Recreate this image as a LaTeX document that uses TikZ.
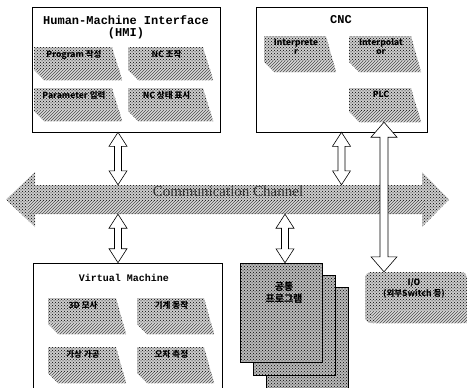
\documentclass[tikz,border=0pt]{standalone}
\usepackage{fontspec}
\setmainfont{Liberation Serif}
\newfontfamily\kr{Noto Sans CJK KR}
\newfontfamily\mono{Liberation Mono}
\usetikzlibrary{patterns,calc}
\tikzset{
  dotfill/.style={preaction={fill=gray!40}, pattern=crosshatch dots, pattern color=black},
  darkdot/.style={preaction={fill=gray!55}, pattern=crosshatch dots, pattern color=black},
  hatchfill/.style={preaction={fill=gray!30}, pattern=north east lines, pattern color=black!70},
  frame/.style={draw=black, line width=0.6pt, fill=white, inner sep=0pt},
  ttl/.style={font=\mono\bfseries\fontsize{12}{13}\selectfont, inner sep=0pt},
  subtxt/.style={font=\kr\bfseries\fontsize{8.5}{9}\selectfont, align=center, inner sep=0pt, text=black},
  hollow/.style={draw=black, line width=0.6pt, fill=white, line join=miter},
  slabbox/.style={inner sep=0pt, draw=none}
}
\newcommand\slab[6]{%
  \node[slabbox, minimum width={#4-#2}, minimum height={#5-#3}] (#1) at ({(#2+#4)/2},{(#3+#5)/2}) {};
  \fill[dotfill] (#2,#3) -- (#4-10,#3) -- (#4,#5) -- (#2+10,#5) -- (#2,#5-10) -- cycle;
  \fill[hatchfill] (#2+1,#5-11) -- (#4-3,#5-11) -- (#4,#5) -- (#2+10,#5) -- cycle;
  \node[subtxt, anchor=north] (#1t) at ({(#2+#4)/2-4},{#3+3}) {#6};
}
\newcommand\harrow[5]{%
  \draw[hollow] let \p1=#1, \p2=#2 in
    (\x1,\y1) -- ({\x1+#3pt},{\y1-#5pt}) -- ({\x1+#4pt},{\y1-#5pt})
    -- ({\x1+#4pt},{\y2+#5pt}) -- ({\x1+#3pt},{\y2+#5pt}) -- (\x1,\y2)
    -- ({\x1-#3pt},{\y2+#5pt}) -- ({\x1-#4pt},{\y2+#5pt})
    -- ({\x1-#4pt},{\y1-#5pt}) -- ({\x1-#3pt},{\y1-#5pt}) -- cycle;
}
\begin{document}
\begin{tikzpicture}[x=1pt,y=-1pt]
\useasboundingbox (0,0) rectangle (467,388);
\clip (0,0) rectangle (467,388);

% HMI
\node[frame, minimum width=188, minimum height=125] (hmi) at (126,69.5) {};
\node[ttl] (hmit1) at (126,20) {Human-Machine Interface};
\node[ttl] (hmit2) at (126,33) {(HMI)};
\slab{s1}{34}{47}{122}{80}{Program 작성}
\slab{s2}{128}{47}{213}{80}{NC 조작}
\slab{s3}{34}{88}{122}{121}{Parameter 입력}
\slab{s4}{128}{88}{213}{121}{NC 상태 표시}

% CNC
\node[frame, minimum width=171, minimum height=125] (cnc) at (341.5,69.5) {};
\node[ttl] (cnct) at (341,20) {CNC};
\slab{c1}{264}{36}{336}{72}{Interprete\\r}
\slab{c2}{349}{36}{421}{72}{Interpolat\\or}
\slab{c3}{349}{88}{421}{122}{PLC}

% Communication channel
\node[inner sep=0pt, minimum width=387, minimum height=29] (chan) at (228.5,199.5) {};
\fill[dotfill] (6,199.5) -- (35,172) -- (35,185) -- (422,185) -- (422,172) -- (449,199.5)
  -- (422,227) -- (422,214) -- (35,214) -- (35,227) -- cycle;
\fill[hatchfill] (28,201) -- (424,201) -- (424,213) -- (28,213) -- cycle;
\node[font=\fontsize{15}{16}\selectfont, text=black!80, inner sep=0pt] (chant) at (228,191) {Communication Channel};

% Virtual machine
\node[frame, minimum width=189, minimum height=140] (vm) at (127.5,333) {};
\node[font=\mono\bfseries\fontsize{10}{11}\selectfont, inner sep=0pt] (vmt) at (124,278) {Virtual Machine};
\slab{v1}{48}{298}{126}{334}{3D 모사}
\slab{v2}{137}{298}{214}{334}{기계 동작}
\slab{v3}{48}{347}{126}{383}{가상 가공}
\slab{v4}{137}{347}{214}{383}{오차 측정}

% program stack
\node[draw=black, darkdot, minimum width=82, minimum height=101, inner sep=0pt] (pg3) at (307,337.5) {};
\node[draw=black, darkdot, minimum width=82, minimum height=100, inner sep=0pt] (pg2) at (294,325) {};
\node[draw=black, darkdot, minimum width=82, minimum height=99, inner sep=0pt] (prog) at (281,312.5) {};
\node[subtxt, font=\kr\bfseries\fontsize{10}{12}\selectfont] (progt) at (284,293) {공통\\프로그램};

% I/O
\fill[dotfill, rounded corners=6pt] (365,272) rectangle (467,323);
\fill[hatchfill] (370,311) -- (467,311) -- (467,323) -- (376,323) -- cycle;
\node[inner sep=0pt, minimum width=102, minimum height=51] (io) at (416,297.5) {};
\node[subtxt, font=\kr\bfseries\fontsize{8.5}{11}\selectfont] (iot) at (414,288) {I/O\\(외부Switch 등)};

% connectors
\harrow{([xshift=-8pt]hmi.south)}{([xshift=-8pt]hmi.south |- chan.north)}{9}{3.5}{14}
\harrow{(cnc.south)}{(cnc.south |- chan.north)}{9}{3.5}{14}
\harrow{([xshift=-9.5pt]vm.north |- chan.south)}{([xshift=-9.5pt]vm.north)}{9}{3.5}{14}
\harrow{([xshift=4pt]prog.north |- chan.south)}{([xshift=4pt]prog.north)}{9}{3.5}{14}
\harrow{([xshift=-1pt]c3.south)}{([xshift=-1pt]c3.south |- io.north)}{13}{4}{15}
\end{tikzpicture}
\end{document}
